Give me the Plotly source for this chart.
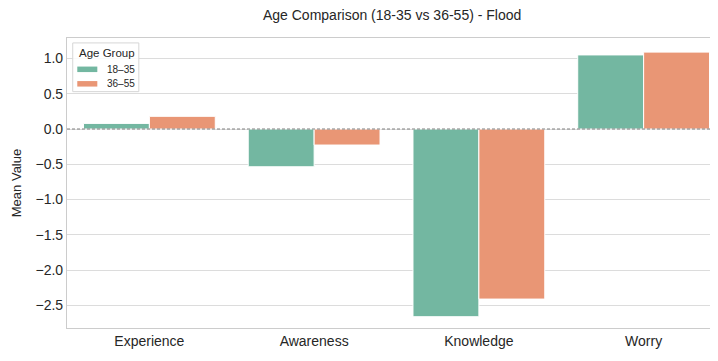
import plotly.graph_objects as go

categories = ["Experience", "Awareness", "Knowledge", "Worry"]
group_names = ["18–35", "36–55"]
values_18_35 = [0.08, -0.535, -2.66, 1.05]
values_36_55 = [0.18, -0.227, -2.41, 1.09]
colors = ["#73b7a1", "#e99675"]
legend_title = "Age Group"

fig = go.Figure()
for name, vals, col in zip(group_names, [values_18_35, values_36_55], colors):
    fig.add_trace(go.Bar(
        x=categories, y=vals, name=name, showlegend=False,
        marker=dict(color=col, line=dict(color="white", width=1)),
    ))

fig.add_hline(y=0, line=dict(color="#808080", width=1.2, dash="3px,2px"))

# custom compact legend (paper coordinates of the plot area)
fig.add_shape(type="rect", xref="paper", yref="paper",
              x0=0.0087, x1=0.109, y0=0.815, y1=0.983,
              line=dict(color="#d6d6d6", width=1), fillcolor="rgba(255,255,255,0.85)",
              layer="above")
fig.add_annotation(text=legend_title, xref="paper", yref="paper",
                   x=0.0145, y=0.948, xanchor="left", yanchor="middle",
                   showarrow=False, font=dict(size=11.5, color="#262626"))
legend_rows_y = [0.892, 0.842]
for name, col, yy in zip(group_names, colors, legend_rows_y):
    fig.add_shape(type="rect", xref="paper", yref="paper",
                  x0=0.0156, x1=0.046, y0=yy - 0.0095, y1=yy + 0.0095,
                  line=dict(width=0), fillcolor=col, layer="above")
    fig.add_annotation(text=name, xref="paper", yref="paper",
                       x=0.058, y=yy, xanchor="left", yanchor="middle",
                       showarrow=False, font=dict(size=10, color="#262626"))

font_family = "Liberation Sans, Arial, sans-serif"
fig.update_layout(
    width=718, height=361,
    margin=dict(l=59, r=0, t=30, b=41),
    paper_bgcolor="white", plot_bgcolor="white",
    barmode="group", bargap=0.2, bargroupgap=0,
    font=dict(family=font_family, size=12, color="#262626"),
    title=dict(text="Age Comparison (18-35 vs 36-55) - Flood",
               x=0.535, xanchor="center", y=0.979, yanchor="middle",
               font=dict(size=14, color="#262626")),
    showlegend=False,
)
fig.update_xaxes(
    range=[-0.5, 3.5], showgrid=False,
    showline=True, linecolor="#cccccc", linewidth=1.2, mirror=True,
    ticks="", tickfont=dict(size=14),
)
fig.update_yaxes(
    range=[-2.82, 1.29], dtick=0.5, tickformat=".1f",
    showgrid=True, gridcolor="#dcdcdc", gridwidth=1,
    zeroline=False,
    showline=True, linecolor="#cccccc", linewidth=1.2, mirror=True,
    ticks="", tickfont=dict(size=14),
    title=dict(text="Mean Value", font=dict(size=13), standoff=10),
)

fig.write_html("out.html")
